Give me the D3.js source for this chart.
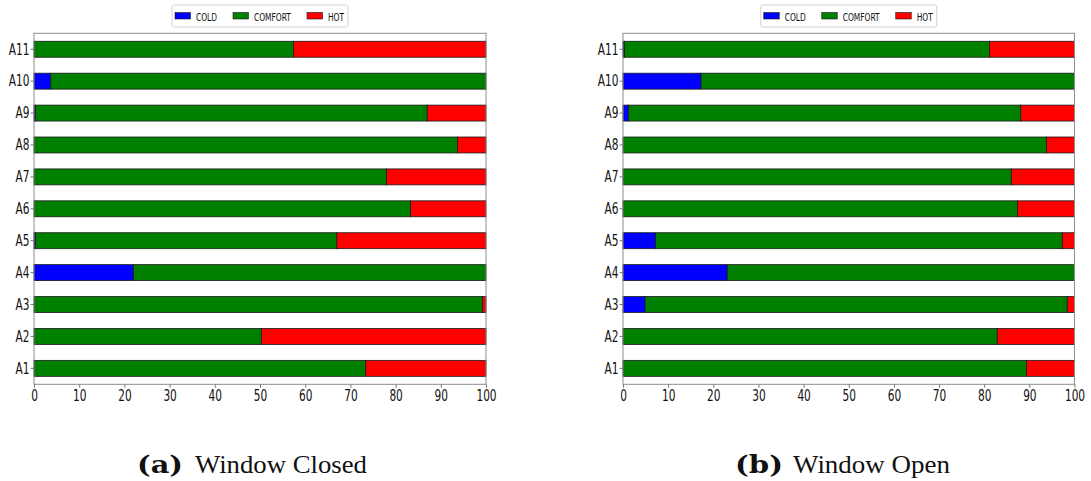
<!DOCTYPE html>
<html>
<head>
<meta charset="utf-8">
<script src="https://cdn.jsdelivr.net/npm/d3@7"></script>
<style>
  html, body { margin: 0; padding: 0; background: #fff; }
  svg { display: block; }
</style>
</head>
<body>
<svg id="chart" width="1091" height="481"></svg>
<script>
// Thermal comfort share (%) per apartment, window closed vs. window open
const categories = ["A1", "A2", "A3", "A4", "A5", "A6", "A7", "A8", "A9", "A10", "A11"];
const seriesNames = ["COLD", "COMFORT", "HOT"];
const seriesColors = ["#0000ff", "#008000", "#ff0000"];
const xTicks = [0, 10, 20, 30, 40, 50, 60, 70, 80, 90, 100];

const closedCold    = [0,    0,    0,    22.0, 0.3,  0,    0,    0,    0.3,  3.7,  0];
const closedComfort = [73.4, 50.3, 99.2, 78.0, 66.7, 83.3, 78.0, 93.7, 86.7, 96.3, 57.4];
const closedHot     = [26.6, 49.7, 0.8,  0,    33.0, 16.7, 22.0, 6.3,  13.0, 0,    42.6];

const openCold      = [0,    0,    4.9,  23.1, 7.2,  0,    0,    0,    1.2,  17.3, 0.3];
const openComfort   = [89.4, 82.9, 93.5, 76.9, 90.1, 87.4, 86.0, 93.8, 86.9, 82.7, 80.9];
const openHot       = [10.6, 17.1, 1.6,  0,    2.7,  12.6, 14.0, 6.2,  11.9, 0,    18.8];

const captions = [
  { tag: "(a)", text: "Window Closed" },
  { tag: "(b)", text: "Window Open" }
];

const svg = d3.select("#chart");
const SX = 0.64;          // horizontal squeeze of the sans labels
const tickFont = "DejaVu Sans, sans-serif";

function panel(x0, x1, cold, comfort, hot, caption) {
  const y0 = 33.3, y1 = 384.3;
  const rows = categories.map((c, i) => ({ cat: c, COLD: cold[i], COMFORT: comfort[i], HOT: hot[i] }));
  const stacked = d3.stack().keys(seriesNames)(rows);

  const x = d3.scaleLinear().domain([0, 100]).range([x0, x1]);
  const y = d3.scaleBand().domain(categories).range([y1, y0])
    .paddingInner(0.5).paddingOuter(0.25);

  const g = svg.append("g");

  // stacked bars
  stacked.forEach((layer, k) => {
    g.append("g").selectAll("rect").data(layer).join("rect")
      .attr("x", d => x(d[0]))
      .attr("y", d => y(d.data.cat))
      .attr("width", d => Math.max(0, x(d[1]) - x(d[0])))
      .attr("height", y.bandwidth())
      .attr("fill", seriesColors[k])
      .attr("stroke", "#1a1a1a")
      .attr("stroke-width", 0.8)
      .attr("display", d => (d[1] - d[0]) > 0 ? null : "none");
  });

  // frame
  g.append("rect")
    .attr("x", x0).attr("y", y0)
    .attr("width", x1 - x0).attr("height", y1 - y0)
    .attr("fill", "none").attr("stroke", "#8c8c8c").attr("stroke-width", 1);

  // x axis
  const xa = g.append("g").attr("transform", `translate(0,${y1})`)
    .call(d3.axisBottom(x).tickValues(xTicks).tickSize(3.5).tickPadding(2).tickFormat(d3.format("d")));
  xa.select(".domain").remove();
  xa.selectAll("line").attr("stroke", "#777");
  xa.selectAll("text")
    .attr("font-family", tickFont).attr("font-size", 16.5).attr("fill", "#111")
    .attr("transform", `scale(${SX},1)`);

  // y axis
  const ya = g.append("g").attr("transform", `translate(${x0},0)`)
    .call(d3.axisLeft(y).tickSize(3.5).tickPadding(2));
  ya.select(".domain").remove();
  ya.selectAll("line").attr("stroke", "#777");
  ya.selectAll("text")
    .attr("font-family", tickFont).attr("font-size", 16.5).attr("fill", "#111")
    .attr("x", -4.5 / SX)
    .attr("transform", `scale(${SX},1)`);

  // legend
  const cx = (x0 + x1) / 2;
  const lw = 176, lh = 22;
  const lg = g.append("g").attr("transform", `translate(${cx - lw / 2},5)`);
  lg.append("rect").attr("width", lw).attr("height", lh).attr("rx", 2)
    .attr("fill", "#fff").attr("stroke", "#d0d0d0").attr("stroke-width", 1);
  const itemX = [3, 61, 135];
  seriesNames.forEach((name, k) => {
    const it = lg.append("g").attr("transform", `translate(${itemX[k]},0)`);
    it.append("rect").attr("x", 0).attr("y", 7.5).attr("width", 15.5).attr("height", 6.5)
      .attr("fill", seriesColors[k]).attr("stroke", "#1a1a1a").attr("stroke-width", 0.6);
    it.append("g").attr("transform", `translate(21,15.5) scale(0.68,1)`)
      .append("text").text(name)
      .attr("font-family", tickFont).attr("font-size", 11).attr("fill", "#111");
  });

  // caption
  const cap = svg.append("g");
  cap.append("text").text(caption.tag)
    .attr("x", caption.tagX).attr("y", 473)
    .attr("font-family", "DejaVu Serif, Liberation Serif, serif")
    .attr("font-weight", "bold").attr("font-size", 24).attr("fill", "#111")
    .attr("textLength", caption.tagW).attr("lengthAdjust", "spacingAndGlyphs");
  cap.append("text").text(caption.text)
    .attr("x", caption.textX).attr("y", 473)
    .attr("font-family", "Liberation Serif, DejaVu Serif, serif")
    .attr("font-size", 26).attr("fill", "#111")
    .attr("textLength", caption.textW).attr("lengthAdjust", "spacingAndGlyphs");
}

panel(34, 486, closedCold, closedComfort, closedHot,
  Object.assign({}, captions[0], { tagX: 137, tagW: 46, textX: 195, textW: 172 }));
panel(623, 1074.5, openCold, openComfort, openHot,
  Object.assign({}, captions[1], { tagX: 735, tagW: 48, textX: 793, textW: 157 }));
</script>
</body>
</html>
